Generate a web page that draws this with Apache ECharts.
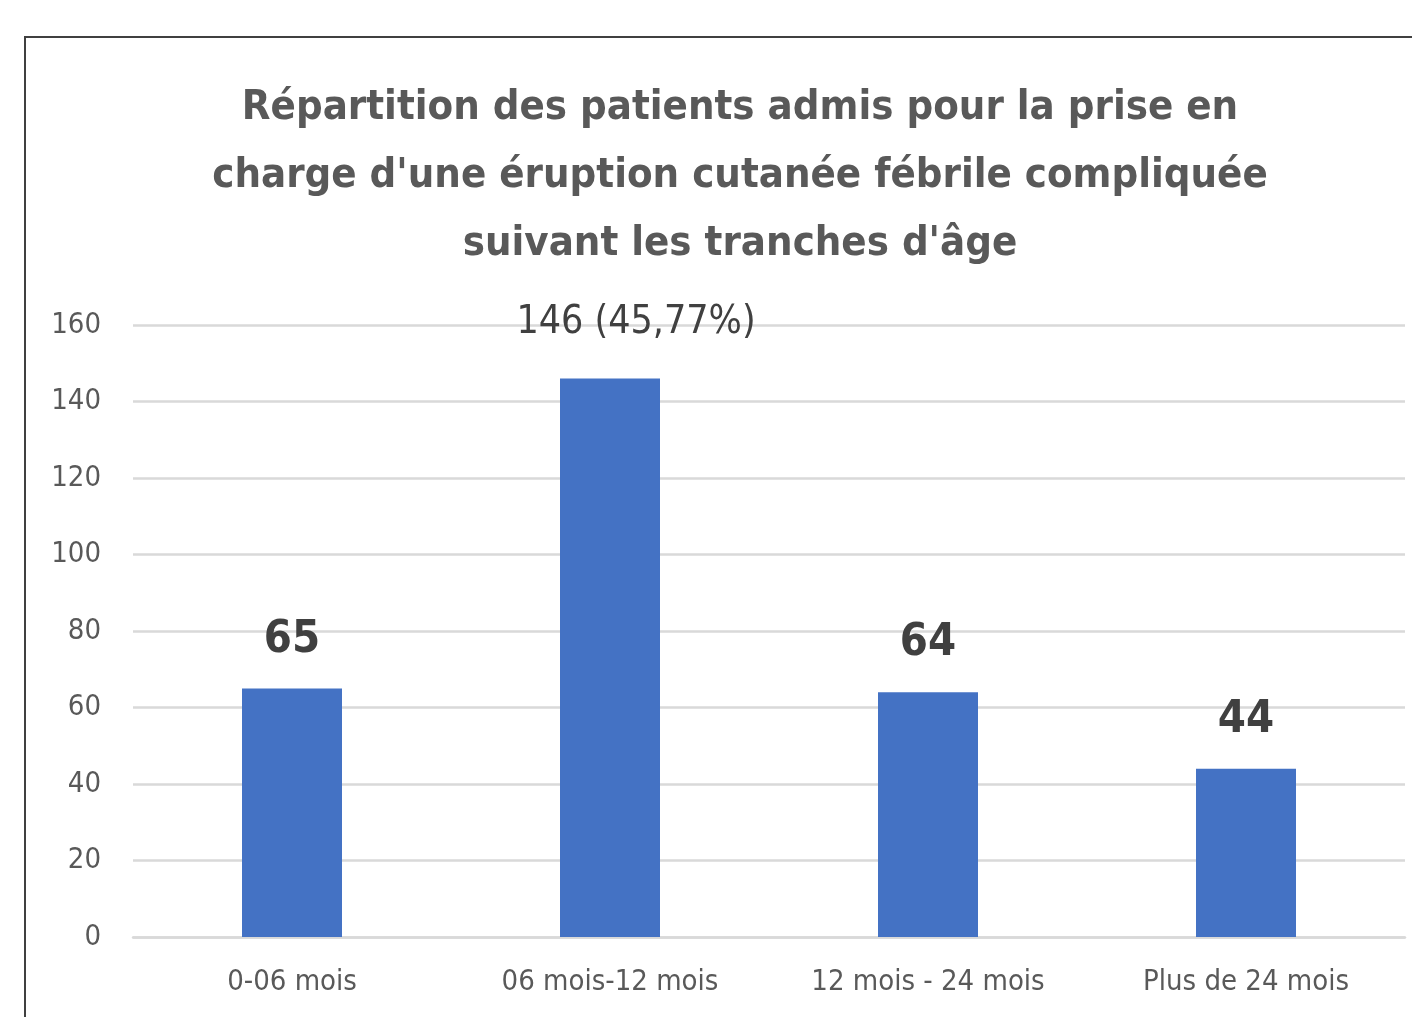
<!DOCTYPE html>
<html>
<head>
<meta charset="utf-8">
<script src="https://cdn.jsdelivr.net/npm/echarts@6/dist/echarts.min.js"></script>
<style>
  html, body { margin: 0; padding: 0; background: #fff; }
  #chart { width: 1412px; height: 1017px; }
</style>
</head>
<body>
<div id="chart"></div>
<script>
const categories = ['0-06 mois', '06 mois-12 mois', '12 mois - 24 mois', 'Plus de 24 mois'];
const counts = [65, 146, 64, 44];
const valueLabels = ['65', '146 (45,77%)', '64', '44'];
const yTicks = { min: 0, max: 160, interval: 20 };

const FONT = '"DejaVu Sans Condensed", "Liberation Sans Narrow", sans-serif';

const chart = echarts.init(document.getElementById('chart'));

const option = {
  backgroundColor: '#ffffff',
  animation: false,
  title: {
    text: "Répartition des patients admis pour la prise en\ncharge d'une éruption cutanée fébrile compliquée\nsuivant les tranches d'âge",
    left: 735,
    top: 69,
    textAlign: 'center',
    textStyle: {
      fontFamily: FONT,
      fontSize: 41.5,
      fontWeight: 'bold',
      color: '#595959',
      lineHeight: 68
    }
  },
  graphic: [{
    type: 'rect',
    shape: { x: 25, y: 37, width: 1500, height: 1100 },
    style: { fill: 'none', stroke: '#404040', lineWidth: 2 },
    silent: true
  }],
  grid: {
    left: 133,
    right: 7,
    top: 325,
    bottom: 80
  },
  xAxis: {
    type: 'category',
    data: categories,
    axisLine: { show: true, lineStyle: { color: '#D9D9D9', width: 2.5 } },
    axisTick: { show: false },
    axisLabel: {
      interval: 0,
      color: '#595959',
      fontFamily: FONT,
      fontSize: 29,
      margin: 31
    }
  },
  yAxis: {
    type: 'value',
    min: yTicks.min,
    max: yTicks.max,
    interval: yTicks.interval,
    axisLine: { show: false },
    axisTick: { show: false },
    axisLabel: {
      color: '#595959',
      fontFamily: FONT,
      fontSize: 29,
      margin: 32
    },
    splitLine: { lineStyle: { color: '#D9D9D9', width: 2.5 } }
  },
  series: [{
    type: 'bar',
    data: counts.map((v, i) => ({
      value: v,
      label: i === 1
        ? { fontSize: 39, fontWeight: 'normal', color: '#404040', distance: 36, offset: [26, 0] }
        : { fontSize: 45, fontWeight: 'bold', color: '#404040', distance: 26 }
    })),
    barWidth: 100,
    itemStyle: { color: '#4472C4' },
    label: {
      show: true,
      position: 'top',
      fontFamily: FONT,
      formatter: p => valueLabels[p.dataIndex]
    }
  }]
};

chart.setOption(option);
</script>
</body>
</html>
